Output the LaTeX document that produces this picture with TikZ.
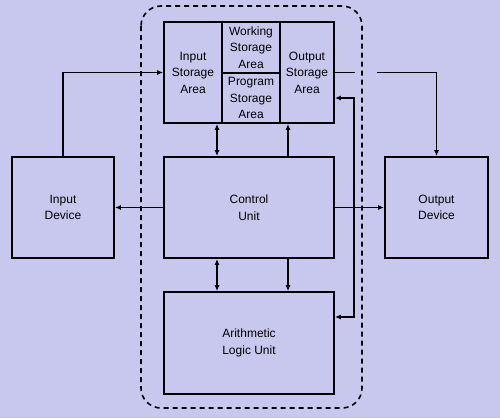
\documentclass[tikz,border=0pt]{standalone}
\usepackage{fontspec}
\setmainfont{Liberation Sans}
\usepackage{tikz}
\usetikzlibrary{arrows.meta, positioning, calc}
\usepackage{xcolor}
\definecolor{cpubg}{HTML}{C8C8EE}
\definecolor{cpuline}{HTML}{000000}

\begin{document}
\begin{tikzpicture}[x=1pt, y=-1pt,
    unitbox/.style={draw=cpuline, line width=1.8pt, align=center,
      inner sep=0pt, font=\fontsize{12}{16.5}\selectfont},
    wire/.style={draw=cpuline, line width=1.8pt},
    tip/.style={-{Latex[length=6pt, width=5pt]}},
    tips/.style={{Latex[length=6pt, width=5pt]}-{Latex[length=6pt, width=5pt]}}]
  % Background
  \fill[cpubg] (0, 0) rectangle (500, 418);
  \useasboundingbox (0, 0) rectangle (500, 418);

  % CPU boundary
  \draw[cpuline, line width=1.6pt, dash pattern=on 5pt off 4pt,
    rounded corners=20pt] (141, 6) rectangle (362, 408);

  % Storage row
  \node[unitbox, minimum width=58pt, minimum height=101pt] (insto)
    at (193, 72.5) {Input\\Storage\\Area};
  \node[unitbox, minimum width=58pt, minimum height=51pt] (work)
    at (251, 47.5) {Working\\Storage\\Area};
  \node[unitbox, minimum width=58pt, minimum height=50pt] (prog)
    at (251, 98) {Program\\Storage\\Area};
  \node[unitbox, minimum width=54pt, minimum height=101pt] (outsto)
    at (307, 72.5) {Output\\Storage\\Area};

  % Control and arithmetic units
  \node[unitbox, minimum width=170pt, minimum height=101pt] (ctrl)
    at (249, 207.5) {Control\\Unit};
  \node[unitbox, minimum width=170pt, minimum height=102pt] (alu)
    at (249, 343) {Arithmetic\\Logic Unit};

  % Devices
  \node[unitbox, minimum width=102pt, minimum height=101pt] (indev)
    at (63, 207.5) {Input\\Device};
  \node[unitbox, minimum width=103pt, minimum height=101pt] (outdev)
    at (436.5, 207.5) {Output\\Device};

  % Wire columns
  \coordinate (cola) at (217, 0);
  \coordinate (colb) at (288, 0);
  \coordinate (gapl) at (355, 72.5);
  \coordinate (gapr) at (377, 72.5);

  % Input side
  \draw[wire, tip] (indev.north) |- (insto.west);
  \draw[wire, tip] (ctrl.west) -- (indev.east);

  % Output side
  \draw[wire] (outsto.east) -- (gapl);
  \draw[wire, tip] (gapr) -| (outdev.north);
  \draw[wire, tip] (ctrl.east) -- (outdev.west);

  % Storage <-> control
  \draw[wire, tips] (cola |- insto.south) -- (cola |- ctrl.north);
  \draw[wire, tip] (colb |- ctrl.north) -- (colb |- outsto.south);

  % Control <-> ALU
  \draw[wire, tips] (cola |- ctrl.south) -- (cola |- alu.north);
  \draw[wire, tip] (colb |- ctrl.south) -- (colb |- alu.north);

  % ALU <-> output storage
  \draw[wire, tips] (outsto.east |- prog) -- ++(19, 0)
    |- ([yshift=26pt]alu.east);
\end{tikzpicture}
\end{document}
